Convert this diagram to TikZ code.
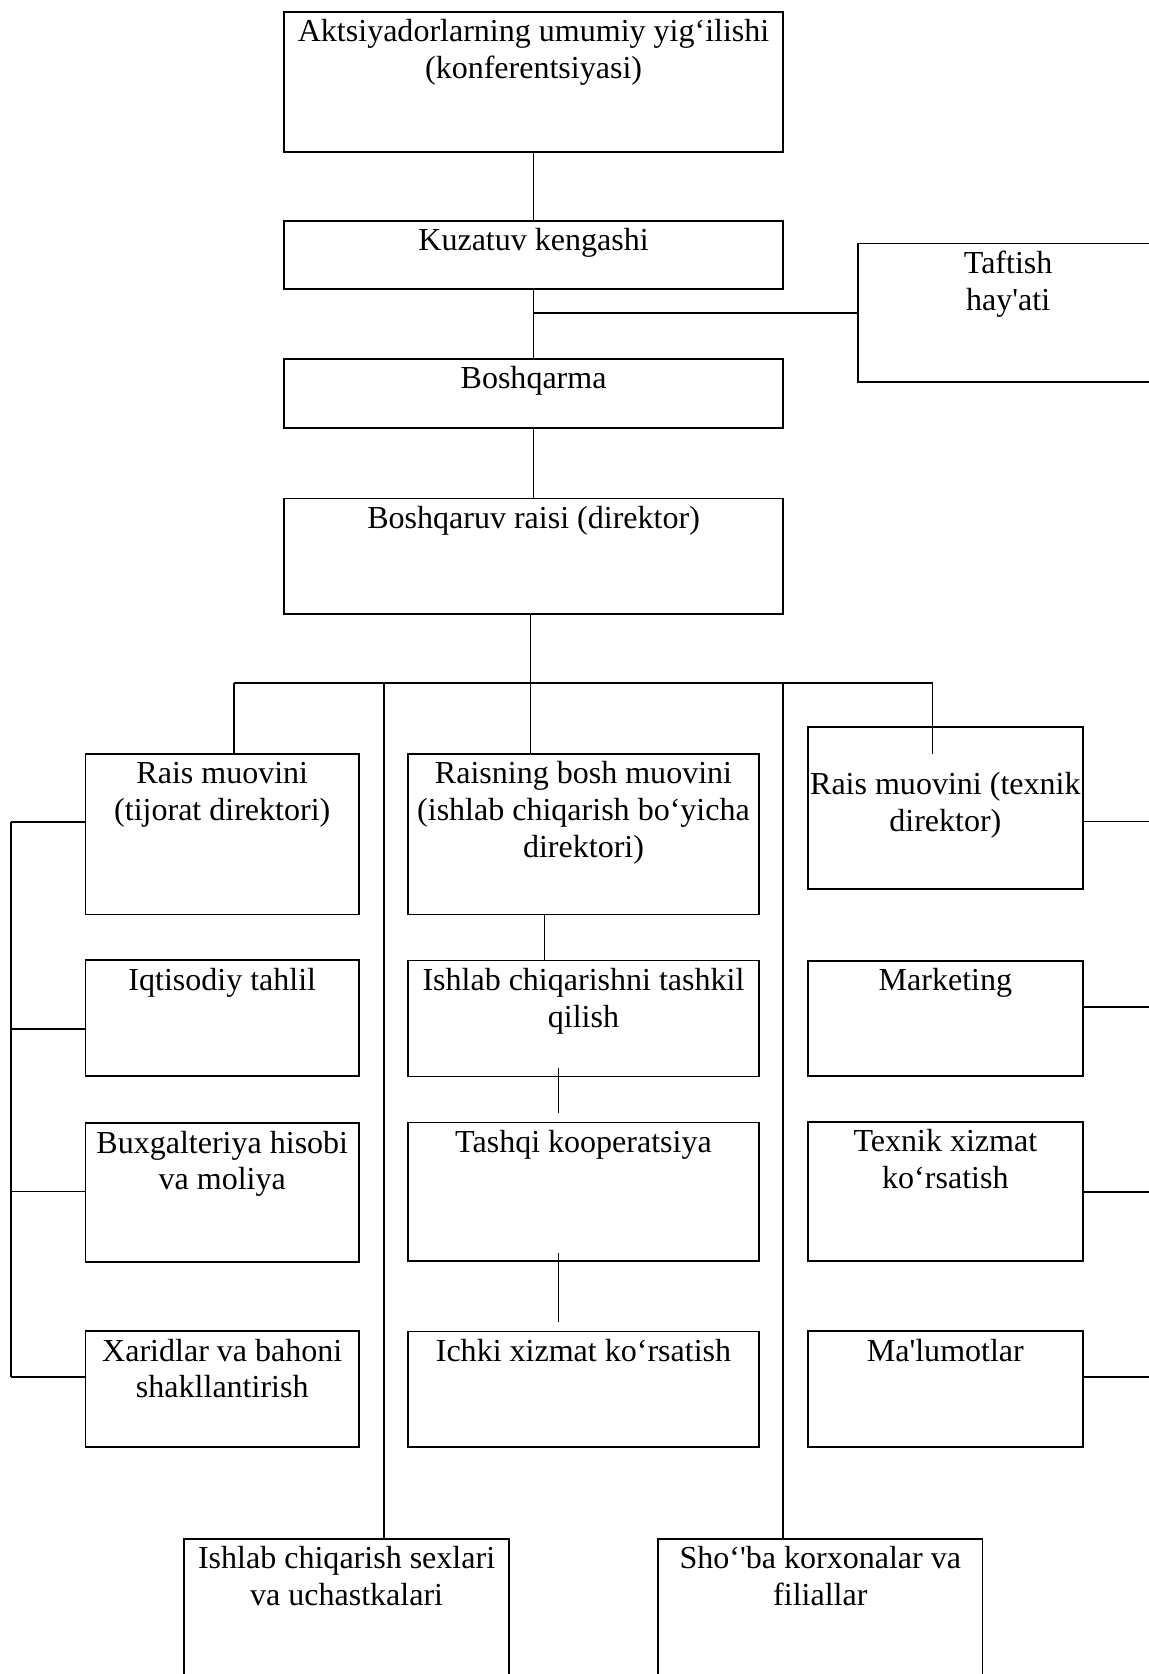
\documentclass[tikz,border=0pt]{standalone}
\usepackage{fontspec}
\newfontfamily\boxfont{Liberation Serif}
% text box: width, height, text set from the top; optional first-line height
\newcommand\boxtext[4][28pt]{\parbox[t][#3][t]{#2}{\centering\rule{0pt}{#1}#4\par}}
\tikzset{
  box/.style={draw, line width=1.7pt, inner sep=0pt, outer sep=0pt, anchor=north west,
    font=\boxfont\fontsize{30pt}{34.4pt}\selectfont},
  link/.style={line width=1.6pt}
}
\begin{document}
\begin{tikzpicture}[x=1pt,y=-1pt]
\useasboundingbox (0,0) rectangle (1076,1568);
\fill[white] (0,0) rectangle (1076,1568);
\clip (0,0) rectangle (1076,1568);

% top of the hierarchy
\node[box] (A1) at (266,11)   {\boxtext{467.6pt}{131.5pt}{Aktsiyadorlarning umumiy yig‘ilishi\\(konferentsiyasi)}};
\node[box] (K)  at (266,207)  {\boxtext{467.6pt}{64pt}{Kuzatuv kengashi}};
\node[box] (T)  at (803.3,228){\boxtext{282pt}{130pt}{Taftish\\hay'ati}};
\node[box] (B)  at (266,336)  {\boxtext{467.6pt}{65pt}{Boshqarma}};
\node[box] (R)  at (266,467)  {\boxtext{467.6pt}{108pt}{Boshqaruv raisi (direktor)}};

% left column
\node[box] (L1) at (80,706)    {\boxtext{256.4pt}{150.5pt}{Rais muovini\\(tijorat direktori)}};
\node[box] (L2) at (80,899.5)  {\boxtext{256.4pt}{108pt}{Iqtisodiy tahlil}};
\node[box] (L3) at (80,1052)   {\boxtext{256.4pt}{130pt}{Buxgalteriya hisobi\\va moliya}};
\node[box] (L4) at (80,1247)   {\boxtext{256.4pt}{108pt}{Xaridlar va bahoni\\shakllantirish}};

% middle column
\node[box] (M1) at (382.5,706)    {\boxtext{328.1pt}{150.5pt}{Raisning bosh muovini\\(ishlab chiqarish bo‘yicha\\direktori)}};
\node[box] (M2) at (382.5,899.7)  {\boxtext{328.1pt}{108.6pt}{Ishlab chiqarishni tashkil\\qilish}};
\node[box] (M3) at (382.5,1051.4) {\boxtext{328.1pt}{130.1pt}{Tashqi kooperatsiya}};
\node[box] (M4) at (382.5,1247.1) {\boxtext{328.1pt}{107.9pt}{Ichki xizmat ko‘rsatish}};

% right column
\node[box] (R1) at (756.5,680.6) {\boxtext[64pt]{258pt}{152pt}{Rais muovini (texnik\\direktor)}};
\node[box] (R2) at (756.5,900)   {\boxtext{258pt}{108pt}{Marketing}};
\node[box] (R3) at (756.5,1051)  {\boxtext{258pt}{130.5pt}{Texnik xizmat\\ko‘rsatish}};
\node[box] (R4) at (756.5,1247)  {\boxtext{258pt}{108pt}{Ma'lumotlar}};

% bottom row
\node[box] (S1) at (172.6,1441.6) {\boxtext{304.1pt}{160pt}{Ishlab chiqarish sexlari\\va uchastkalari}};
\node[box] (S2) at (616.5,1441.6) {\boxtext{303.8pt}{160pt}{Sho‘'ba korxonalar va\\filiallar}};

% main vertical chain
\draw[link] (A1.south) -- (K.north);
\draw[link] (K.south) -- (B.north);
\draw[link] (K.south |- T.west) -- (T.west);
\draw[link] (B.south) -- (R.north);

% distribution bus under the chairman
\coordinate (hub)  at (497,640);
\coordinate (busL) at (219.5,640);
\coordinate (busR) at (873.5,640);
\coordinate (dS1)  at (359.6,640);
\coordinate (dS2)  at (733.6,640);
\draw[link] (R.south -| hub) -- (hub);
\draw[link] (busL) -- (busR);
\draw[link] (busL) -- (busL |- L1.north);
\draw[link] (hub) -- (hub |- M1.north);
\draw[link] (busR) -- (busR |- L1.north);
\draw[link] (dS1) -- (dS1 |- S1.north);
\draw[link] (dS2) -- (dS2 |- S2.north);

% middle column links
\draw[link] ([xshift=-36.5pt]M1.south) -- ([xshift=-36.5pt]M2.north);
\draw[link] ([xshift=-23.3pt,yshift=8pt]M2.south) -- ([xshift=-23.3pt,yshift=9pt]M3.north);
\draw[link] ([xshift=-23.3pt,yshift=8pt]M3.south) -- ([xshift=-23.3pt,yshift=8.4pt]M4.north);

% left bus
\coordinate (lb1) at (10,770);
\coordinate (lb2) at (10,964);
\coordinate (lb3) at (10,1116);
\coordinate (lb4) at (10,1290);
\draw[link] (lb1) -- (lb4);
\draw[link] (lb1) -- (lb1 -| L1.west);
\draw[link] (lb2) -- (lb2 -| L2.west);
\draw[link] (lb3) -- (lb3 -| L3.west);
\draw[link] (lb4) -- (lb4 -| L4.west);

% right stubs
\coordinate (rb1) at (1076,769.5);
\coordinate (rb2) at (1076,943);
\coordinate (rb3) at (1076,1116.4);
\coordinate (rb4) at (1076,1290);
\draw[link] (rb1 -| R1.east) -- (rb1);
\draw[link] (rb2 -| R2.east) -- (rb2);
\draw[link] (rb3 -| R3.east) -- (rb3);
\draw[link] (rb4 -| R4.east) -- (rb4);
\end{tikzpicture}
\end{document}
